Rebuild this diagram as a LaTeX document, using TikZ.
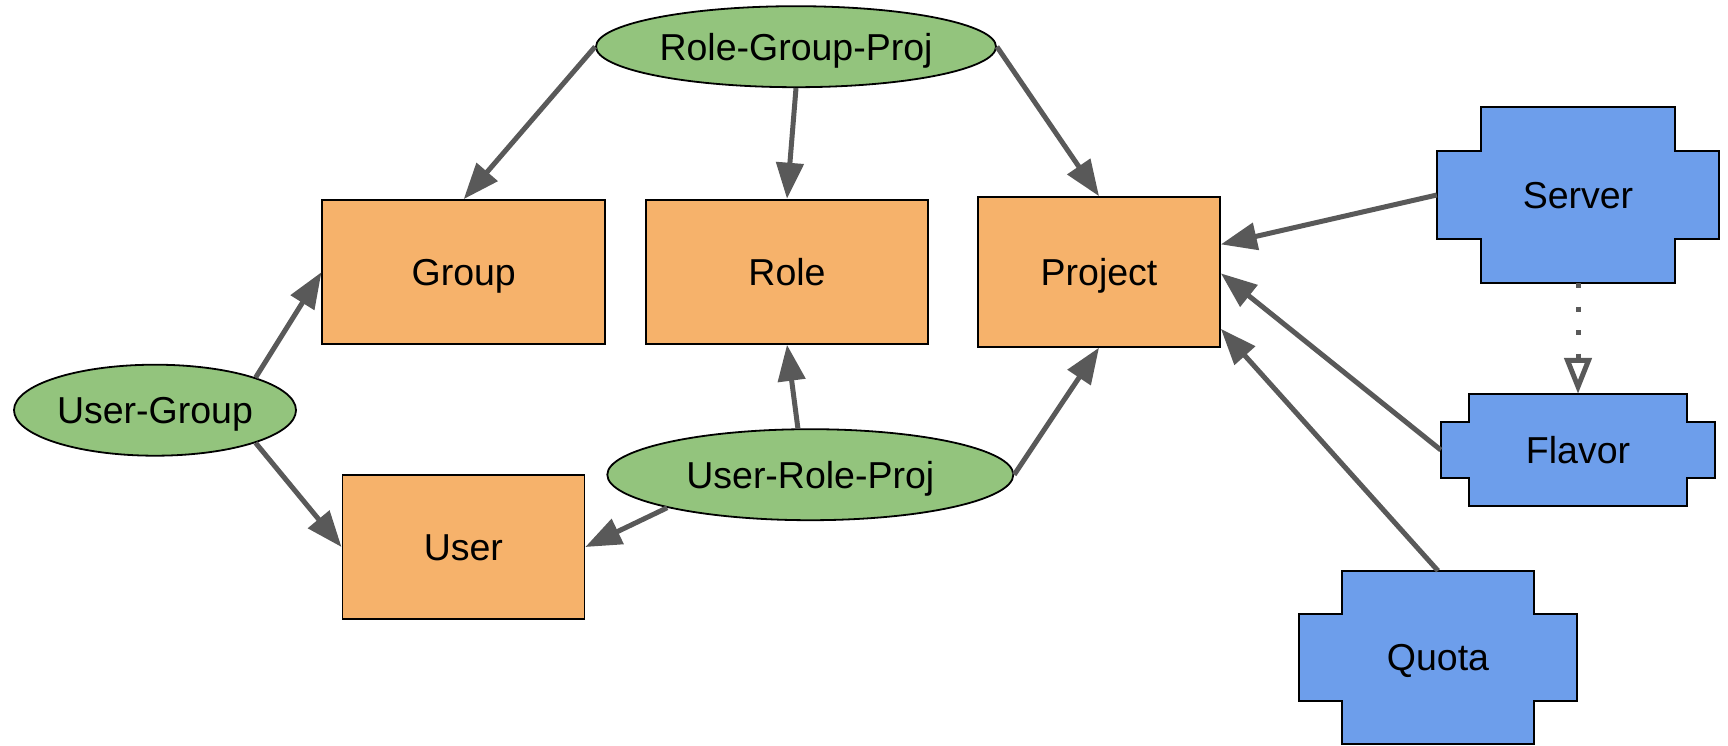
\documentclass[tikz,border=0pt]{standalone}
\usepackage{fontspec}
\setmainfont{Liberation Sans}
\usetikzlibrary{shapes.geometric,arrows.meta,calc,backgrounds}
\definecolor{entityfill}{HTML}{F6B26B}
\definecolor{linkfill}{HTML}{93C47D}
\definecolor{resfill}{HTML}{6D9EEB}
\definecolor{edgegray}{HTML}{595959}
\newcommand\nodetextfont{\fontsize{37.5}{45}\selectfont}
\begin{document}
\begin{tikzpicture}[x=1pt,y=-1pt,
  every node/.style={inner sep=0pt, font=\nodetextfont, text height=26.9pt, text depth=0pt},
  entity/.style={rectangle, draw=black, line width=1.8pt, fill=entityfill},
  link/.style={ellipse, draw=black, line width=1.8pt, fill=linkfill},
  resource/.style={rectangle},
  notchline/.style={draw=black, line width=1.8pt, fill=resfill},
  rel/.style={draw=edgegray, line width=5pt, -{Triangle[length=36pt,width=27pt]}},
  dep/.style={draw=edgegray, line width=5pt, dash pattern=on 5pt off 18.5pt,
              -{Triangle[open,length=36pt,width=27pt]}},
]
\begin{pgfonlayer}{background}
  \fill[white] (0,0) rectangle (1728,746);
\end{pgfonlayer}
\useasboundingbox (0,0) rectangle (1728,746);

% identity entities
\node[entity, minimum width=282.7, minimum height=144.3] (group)   at (463.7,272.2) {Group};
\node[entity, minimum width=282,   minimum height=144.3] (role)    at (787,271.8)   {Role};
\node[entity, minimum width=242,   minimum height=149.7] (project) at (1099,271.9)  {Project};
\node[entity, minimum width=242,   minimum height=144.6] (user)    at (463.4,547)   {User};

% association records
\node[link, minimum width=400, minimum height=81] (rgp) at (796,46.7)    {Role-Group-Proj};
\node[link, minimum width=282, minimum height=91] (ug)  at (155,410.2)   {User-Group};
\node[link, minimum width=406, minimum height=91] (urp) at (810.3,474.7) {User-Role-Proj};

% compute resources
\node[resource, minimum width=282, minimum height=176] (server) at (1578,195)   {Server};
\node[resource, minimum width=274, minimum height=112] (flavor) at (1578,450)   {Flavor};
\node[resource, minimum width=278, minimum height=173] (quota)  at (1438,657.5) {Quota};

% notched outlines behind the resource labels
\begin{pgfonlayer}{background}
\foreach \n/\d in {server/44,flavor/28,quota/43.5}{
  \path[notchline]
    ($(\n.north west)+(\d,0)$) -- ($(\n.north east)+(-\d,0)$) -- ($(\n.north east)+(-\d,\d)$)
    -- ($(\n.north east)+(0,\d)$) -- ($(\n.south east)+(0,-\d)$) -- ($(\n.south east)+(-\d,-\d)$)
    -- ($(\n.south east)+(-\d,0)$) -- ($(\n.south west)+(\d,0)$) -- ($(\n.south west)+(\d,-\d)$)
    -- ($(\n.south west)+(0,-\d)$) -- ($(\n.north west)+(0,\d)$) -- ($(\n.north west)+(\d,\d)$)
    -- cycle;
}
\end{pgfonlayer}

% relations
\draw[rel] (rgp.west)  -- (group.north);
\draw[rel] (rgp.south) -- (role.north);
\draw[rel] (rgp.east)  -- (project.north);
\draw[rel] (ug.18)     -- (group.west);
\draw[rel] (ug.-18)    -- (user.west);
\draw[rel] (urp.105)   -- (role.south);
\draw[rel] (urp.east)  -- (project.south);
\draw[rel] (urp.193)   -- (user.east);
\draw[rel] (server.west) -- ($(project.east)+(0,-27.5)$);
\draw[rel] (flavor.west) -- ($(project.east)+(0,1.5)$);
\draw[rel] (quota.north) -- ($(project.east)+(0,57)$);
\draw[dep] (server.south) -- (flavor.north);
\end{tikzpicture}
\end{document}
